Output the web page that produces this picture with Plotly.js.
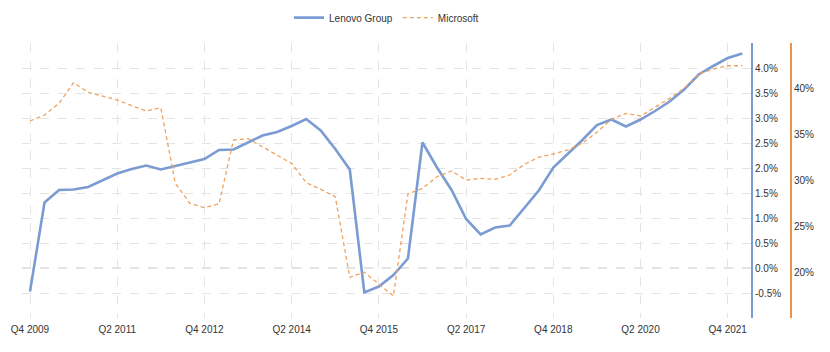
<!DOCTYPE html>
<html>
<head>
<meta charset="utf-8">
<script src="https://cdn.plot.ly/plotly-3.0.1.min.js"></script>
<style>html,body{margin:0;padding:0;background:#fff;}#chart{width:830px;height:352px;}</style>
</head>
<body>
<div id="chart"></div>
<script>
const quarters = [
  'Q4 2009',
  'Q1 2010','Q2 2010','Q3 2010','Q4 2010',
  'Q1 2011','Q2 2011','Q3 2011','Q4 2011',
  'Q1 2012','Q2 2012','Q3 2012','Q4 2012',
  'Q1 2013','Q2 2013','Q3 2013','Q4 2013',
  'Q1 2014','Q2 2014','Q3 2014','Q4 2014',
  'Q1 2015','Q2 2015','Q3 2015','Q4 2015',
  'Q1 2016','Q2 2016','Q3 2016','Q4 2016',
  'Q1 2017','Q2 2017','Q3 2017','Q4 2017',
  'Q1 2018','Q2 2018','Q3 2018','Q4 2018',
  'Q1 2019','Q2 2019','Q3 2019','Q4 2019',
  'Q1 2020','Q2 2020','Q3 2020','Q4 2020',
  'Q1 2021','Q2 2021','Q3 2021','Q4 2021',
  'Q1 2022'
];
const lenovo = [
  -0.47, 1.31, 1.56, 1.57, 1.62, 1.76, 1.89, 1.98, 2.05, 1.97,
  2.04, 2.11, 2.18, 2.36, 2.37, 2.51, 2.65, 2.72, 2.84, 2.98,
  2.75, 2.38, 1.97, -0.49, -0.37, -0.14, 0.19, 2.51, 2.01, 1.56,
  0.98, 0.67, 0.81, 0.85, 1.19, 1.55, 2.01, 2.28, 2.56, 2.86,
  2.97, 2.83, 2.97, 3.14, 3.33, 3.57, 3.87, 4.04, 4.20, 4.29
];
const microsoft = [
  36.49, 37.14, 38.42, 40.67, 39.62, 39.21, 38.78, 38.16, 37.58, 37.94,
  29.69, 27.51, 27.03, 27.44, 34.42, 34.56, 33.69, 32.78, 31.87, 29.76,
  29.04, 28.23, 19.44, 19.99, 18.68, 17.40, 28.53, 29.14, 30.41, 31.04,
  30.05, 30.23, 30.13, 30.60, 31.75, 32.55, 32.89, 33.33, 34.06, 35.26,
  36.67, 37.33, 37.03, 37.98, 38.96, 40.05, 41.61, 42.16, 42.52, 42.52
];
const xTicks = ['Q4 2009','Q2 2011','Q4 2012','Q2 2014','Q4 2015','Q2 2017','Q4 2018','Q2 2020','Q4 2021'];
const leftTickVals = [-1, -0.5, 0, 0.5, 1, 1.5, 2, 2.5, 3, 3.5, 4, 4.5];
const leftTickText = ['', '-0.5%', '0.0%', '0.5%', '1.0%', '1.5%', '2.0%', '2.5%', '3.0%', '3.5%', '4.0%', ''];
const rightTickVals = [20, 25, 30, 35, 40];
const rightTickText = ['20%', '25%', '30%', '35%', '40%'];

const BLUE = '#7b9bd3';
const ORANGE = '#eea35f';
const ORANGE_AXIS = '#e8944a';
const GRID = '#e4e4e4';

const traces = [
  {
    x: quarters, y: lenovo, name: 'Lenovo Group', type: 'scatter', mode: 'lines',
    line: {color: BLUE, width: 2.6}, yaxis: 'y', hoverinfo: 'skip'
  },
  {
    x: quarters, y: microsoft, name: 'Microsoft', type: 'scatter', mode: 'lines',
    line: {color: ORANGE, width: 1.3, dash: '4px,3px'}, yaxis: 'y2', hoverinfo: 'skip'
  }
];

const layout = {
  width: 830, height: 352,
  margin: {l: 22, r: 39, t: 43, b: 34, pad: 0, autoexpand: false},
  paper_bgcolor: '#fff', plot_bgcolor: '#fff',
  font: {family: 'Liberation Sans, Arial, sans-serif', size: 10, color: '#333'},
  showlegend: true,
  legend: {
    orientation: 'h', x: 0.474, xanchor: 'center', y: 1.145, yanchor: 'top',
    font: {size: 10, color: '#333'}
  },
  xaxis: {
    type: 'category', domain: [0, 0.948], range: [-0.55, 49.6],
    tickvals: xTicks, ticktext: xTicks, ticks: '', ticklabelstandoff: 4,
    showgrid: true, gridcolor: GRID, griddash: 'dash', gridwidth: 1,
    zeroline: false, showline: false, fixedrange: true
  },
  yaxis: {
    side: 'right', anchor: 'x', range: [-1, 4.5],
    tickvals: leftTickVals, ticktext: leftTickText, ticks: '',
    showgrid: true, gridcolor: GRID, griddash: 'dash', gridwidth: 1,
    zeroline: false, showline: true, linecolor: BLUE, linewidth: 2,
    fixedrange: true
  },
  yaxis2: {
    overlaying: 'y', side: 'right', anchor: 'free', position: 1,
    range: [15, 45], tickvals: rightTickVals, ticktext: rightTickText, ticks: '',
    showgrid: false, zeroline: false, showline: true, linecolor: ORANGE_AXIS, linewidth: 2,
    fixedrange: true
  },
  shapes: [
    {type: 'line', xref: 'x domain', x0: 0, x1: 1, yref: 'y', y0: 0, y1: 0,
     line: {color: '#c4c4c4', width: 1, dash: 'dash'}, layer: 'below'}
  ]
};

Plotly.newPlot('chart', traces, layout, {displayModeBar: false, staticPlot: true});
</script>
</body>
</html>
